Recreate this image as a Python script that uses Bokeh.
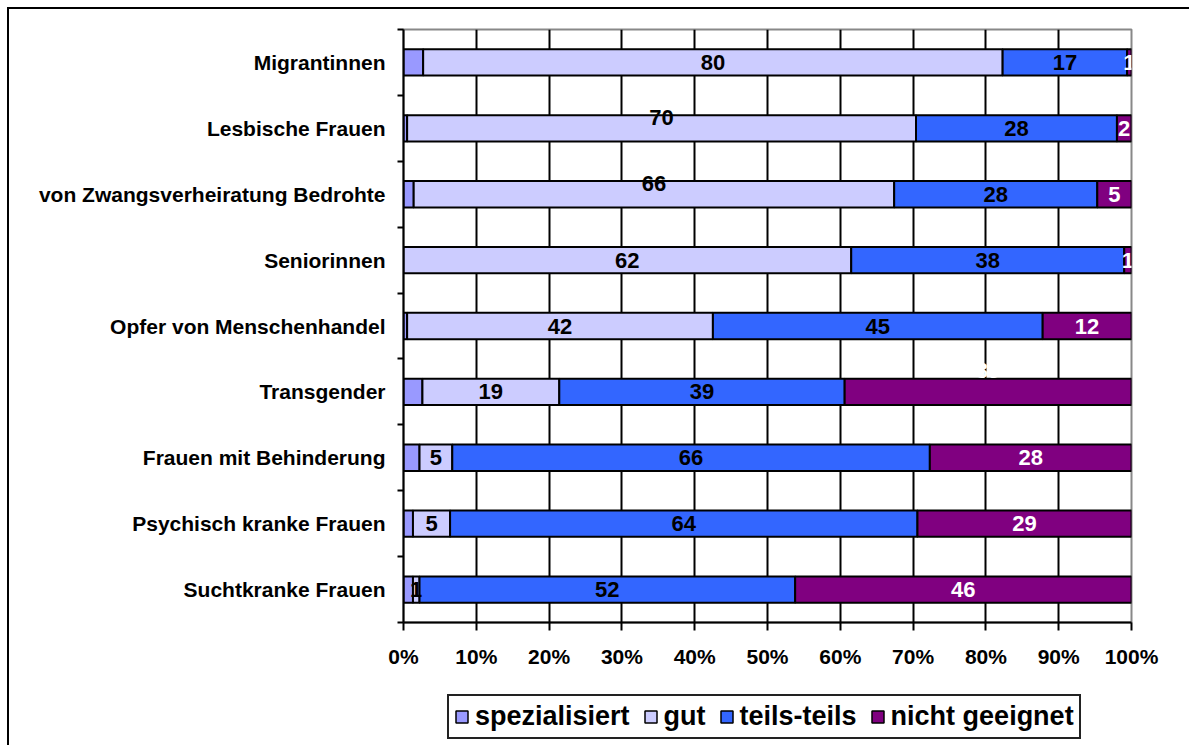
from bokeh.plotting import figure
from bokeh.layouts import column
from bokeh.models import ColumnDataSource, FixedTicker, Range1d, Legend, LegendItem
from bokeh.core.properties import value
from bokeh.embed import file_html
from bokeh.resources import INLINE

# ---------------- data ----------------
categories = [
    "Migrantinnen",
    "Lesbische Frauen",
    "von Zwangsverheiratung Bedrohte",
    "Seniorinnen",
    "Opfer von Menschenhandel",
    "Transgender",
    "Frauen mit Behinderung",
    "Psychisch kranke Frauen",
    "Suchtkranke Frauen",
]
series_names = ["spezialisiert", "gut", "teils-teils", "nicht geeignet"]
spezialisiert = [2.7, 0.5, 1.4, 0.0, 0.5, 2.6, 2.2, 1.3, 1.3]
gut = [79.6, 69.9, 66.0, 61.5, 42.0, 18.8, 4.5, 5.1, 0.9]
teils_teils = [17.1, 27.6, 27.9, 37.5, 45.3, 39.2, 65.6, 64.2, 51.6]
nicht_geeignet = [0.6, 2.0, 4.7, 1.0, 12.2, 39.4, 27.7, 29.4, 46.2]
x_ticks = [0, 10, 20, 30, 40, 50, 60, 70, 80, 90, 100]
x_tick_labels = ["0%", "10%", "20%", "30%", "40%", "50%", "60%", "70%", "80%", "90%", "100%"]

# ---------------- style ----------------
FONT = "Liberation Sans"
colors = ["#9999FF", "#CCCCFF", "#3366FF", "#800080"]
label_colors = [None, "black", "black", "white"]
# some labels sit above their bar in the original (category, series) -> upward offset
label_lift = {(1, 1): 0.17, (2, 1): 0.17, (5, 3): 0.32}

n = len(categories)
ypos = [n - 1 - i + 0.5 for i in range(n)]
stackers = ["spez", "gut", "teils", "nicht"]

src = ColumnDataSource(dict(y=ypos, spez=spezialisiert, gut=gut,
                            teils=teils_teils, nicht=nicht_geeignet))

W = 1180
p = figure(width=W, height=672, output_backend="svg", toolbar_location=None,
           x_range=Range1d(0, 100), y_range=Range1d(0, n),
           min_border_left=394, min_border_right=58, min_border_top=20,
           min_border_bottom=59)

p.hbar_stack(stackers, y="y", height=0.4,
             color=colors, line_color="black", line_width=2, source=src)

# labels
lx, ly, lt, lc = [], [], [], []
series = [spezialisiert, gut, teils_teils, nicht_geeignet]
for i in range(n):
    cum = 0.0
    for s in range(4):
        v = series[s][i]
        if label_colors[s] is not None and v > 0:
            lx.append(cum + v / 2)
            ly.append(ypos[i] + label_lift.get((i, s), 0.0))
            lt.append(str(int(v + 0.5)))
            lc.append(label_colors[s])
        cum += v
lsrc = ColumnDataSource(dict(x=lx, y=ly, t=lt, c=lc))
p.text(x="x", y="y", text="t", text_color="c", source=lsrc,
       text_align="center", text_baseline="middle",
       text_font=value(FONT), text_font_style="bold", text_font_size="22px")

# grids
p.ygrid.visible = False
p.xgrid.ticker = FixedTicker(ticks=x_ticks[1:-1])
p.xgrid.grid_line_color = "black"
p.xgrid.grid_line_width = 2

p.outline_line_color = "#888888"
p.outline_line_width = 2

# x axis
xa = p.xaxis[0]
xa.ticker = FixedTicker(ticks=x_ticks)
xa.major_label_overrides = {t: l for t, l in zip(x_ticks, x_tick_labels)}
xa.axis_line_color = "black"
xa.axis_line_width = 2
xa.major_tick_line_color = "black"
xa.major_tick_line_width = 2
xa.major_tick_out = 8
xa.major_tick_in = 0
xa.minor_tick_line_color = None
xa.major_label_standoff = 14
xa.major_label_text_font = FONT
xa.major_label_text_font_style = "bold"
xa.major_label_text_font_size = "21px"
xa.major_label_text_color = "black"

# y axis
ya = p.yaxis[0]
ya.ticker = FixedTicker(ticks=ypos, minor_ticks=list(range(n + 1)))
ya.major_label_overrides = {y: c for y, c in zip(ypos, categories)}
ya.axis_line_color = "black"
ya.axis_line_width = 2
ya.major_tick_line_color = None
ya.major_tick_out = 0
ya.major_tick_in = 0
ya.minor_tick_line_color = "black"
ya.minor_tick_line_width = 2
ya.minor_tick_out = 6
ya.minor_tick_in = 0
ya.major_label_standoff = 12
ya.major_label_text_font = FONT
ya.major_label_text_font_style = "bold"
ya.major_label_text_font_size = "21px"
ya.major_label_text_color = "black"

# legend strip (separate figure below the chart; its bar renderers are hidden)
LH = 64
lf = figure(width=W, height=LH, output_backend="svg", toolbar_location=None,
            x_range=Range1d(0, 100), y_range=Range1d(0, n),
            x_axis_location=None, y_axis_location=None,
            min_border=0, outline_line_color=None)
lf.grid.visible = False
leg_r = lf.hbar_stack(stackers, y="y", height=0.4, color=colors,
                      line_color="black", line_width=1.5, source=src)
for r in leg_r:
    r.visible = False
legend = Legend(items=[LegendItem(label=series_names[k], renderers=[leg_r[k]])
                       for k in range(4)],
                orientation="horizontal", location=(44, 6),
                glyph_width=15, glyph_height=15, label_standoff=6, spacing=13,
                padding=5, margin=0,
                label_text_font=FONT, label_text_font_style="bold",
                label_text_font_size="27px", label_text_color="black",
                border_line_color="#222222", border_line_width=2,
                border_line_alpha=1.0, inactive_fill_alpha=0.0,
                background_fill_color="white", background_fill_alpha=1)
lf.add_layout(legend, "center")

layout = column(p, lf, spacing=0,
                styles={"border-left": "2px solid black", "border-top": "2px solid black",
                        "margin-left": "7px", "margin-top": "7px"})

open("out.html", "w").write(file_html(layout, INLINE))
